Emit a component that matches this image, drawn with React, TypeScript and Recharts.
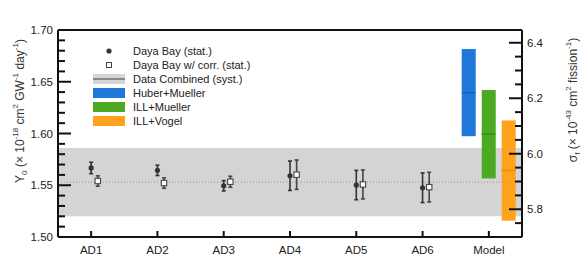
import {
  ComposedChart,
  Bar,
  Scatter,
  ErrorBar,
  XAxis,
  YAxis,
  ReferenceArea,
  ReferenceLine,
  Legend,
} from "recharts";

const FONT = "'Liberation Sans', Arial, Helvetica, sans-serif";

// categories along the x axis
const categories = ["AD1", "AD2", "AD3", "AD4", "AD5", "AD6", "Model"];

// Daya Bay measured yields per detector (x 1e-18 cm^2/GW/day)
const statY = [1.5667, 1.5644, 1.5495, 1.5592, 1.5502, 1.5476];
const statErr = [0.0055, 0.005, 0.005, 0.0142, 0.0142, 0.0143];
const corrY = [1.5541, 1.5521, 1.5534, 1.5602, 1.5508, 1.5482];
const corrErr = [0.005, 0.005, 0.0053, 0.0142, 0.014, 0.0143];
const corrOffset = 0.1; // w/ corr. points drawn just right of the category

// combined data band
const combinedY = 1.553;
const combinedSyst = 0.033;

// model predictions (low / high edge)
const modelKeys = ["hm", "im", "iv"];
const modelNames = ["Huber+Mueller", "ILL+Mueller", "ILL+Vogel"];
const modelLow = [1.5974, 1.5566, 1.5158];
const modelHigh = [1.6816, 1.642, 1.6126];
const modelFill = ["#1f78d9", "#4da823", "#ffa31c"];
const modelLine = ["#1462bd", "#3b8c14", "#f28e00"];

// axis ticks
const leftTicks = [
  1.5, 1.51, 1.52, 1.53, 1.54, 1.55, 1.56, 1.57, 1.58, 1.59, 1.6, 1.61, 1.62,
  1.63, 1.64, 1.65, 1.66, 1.67, 1.68, 1.69, 1.7,
];
const rightTicks = [
  5.7, 5.75, 5.8, 5.85, 5.9, 5.95, 6.0, 6.05, 6.1, 6.15, 6.2, 6.25, 6.3, 6.35,
  6.4,
];

const barData = categories.map((name) => {
  const row: Record<string, unknown> = { name };
  if (name === "Model") {
    modelKeys.forEach((k, j) => {
      row[k] = [modelLow[j], modelHigh[j]];
    });
  }
  return row;
});

const statData = statY.map((y, i) => ({ x: i + 1, y, err: statErr[i] }));
const corrData = corrY.map((y, i) => ({ x: i + 1 + corrOffset, y, err: corrErr[i] }));

const isMultiple = (v: number, step: number) =>
  Math.abs(v / step - Math.round(v / step)) < 1e-6;

function LeftTick({ x, y, payload }: any) {
  const major = isMultiple(payload.value, 0.05);
  return (
    <g>
      <line x1={x} x2={x + (major ? 13 : 7)} y1={y} y2={y} stroke="#111" strokeWidth={2} />
      {major && (
        <text x={x - 5} y={y + 4} textAnchor="end" fontSize={11.5} fontFamily={FONT} fill="#222">
          {payload.value.toFixed(2)}
        </text>
      )}
    </g>
  );
}

function RightTick({ x, y, payload }: any) {
  const major = isMultiple(payload.value, 0.2);
  return (
    <g>
      <line x1={x} x2={x - (major ? 13 : 7)} y1={y} y2={y} stroke="#111" strokeWidth={2} />
      {major && (
        <text x={x + 5} y={y + 4} textAnchor="start" fontSize={11.5} fontFamily={FONT} fill="#222">
          {payload.value.toFixed(1)}
        </text>
      )}
    </g>
  );
}

function BottomTick({ x, y, payload }: any) {
  return (
    <g>
      <line x1={x} x2={x} y1={y} y2={y - 6} stroke="#111" strokeWidth={2} />
      <text x={x} y={y + 17} textAnchor="middle" fontSize={11.5} fontFamily={FONT} fill="#222">
        {payload.value}
      </text>
    </g>
  );
}

function ModelBar(props: any) {
  const { x, y, width, height, fill, line } = props;
  if (!height) return null;
  const top = height < 0 ? y + height : y;
  const h = Math.abs(height);
  return (
    <g>
      <rect x={x} y={top} width={width} height={h} fill={fill} />
      <line x1={x} x2={x + width} y1={top + h / 2} y2={top + h / 2} stroke={line} strokeWidth={1.5} />
    </g>
  );
}

function Dot({ cx, cy }: any) {
  return <circle cx={cx} cy={cy} r={2.6} fill="#333" />;
}

function OpenSquare({ cx, cy }: any) {
  return <rect x={cx - 2.7} y={cy - 2.7} width={5.4} height={5.4} fill="#fff" stroke="#444" strokeWidth={1.1} />;
}

function LegendBox() {
  const rows = [
    "Daya Bay (stat.)",
    "Daya Bay w/ corr. (stat.)",
    "Data Combined (syst.)",
    ...modelNames,
  ];
  return (
    <svg width={220} height={86}>
      {rows.map((label, i) => {
        const cy = 7 + i * 14;
        let mark = null;
        if (i === 0) mark = <Dot cx={16} cy={cy} />;
        else if (i === 1) mark = <rect x={13.5} y={cy - 2.5} width={5} height={5} fill="#fff" stroke="#444" strokeWidth={1} />;
        else if (i === 2)
          mark = (
            <g>
              <rect x={0} y={cy - 5} width={32} height={10} fill="#d4d4d4" />
              <line x1={0} x2={32} y1={cy} y2={cy} stroke="#888" strokeWidth={2} />
            </g>
          );
        else mark = <rect x={0} y={cy - 5} width={32} height={10} fill={modelFill[i - 3]} />;
        return (
          <g key={label}>
            {mark}
            <text x={40} y={cy + 4} fontSize={11} fontFamily={FONT} fill="#222">
              {label}
            </text>
          </g>
        );
      })}
    </svg>
  );
}

function AxisTitles() {
  const sup = 8;
  return (
    <g fontFamily={FONT} fill="#333">
      <text transform="translate(24,111) rotate(-90)" textAnchor="middle" fontSize={12}>
        Y<tspan fontSize={sup} dy={3}>0</tspan>
        <tspan dy={-3}> (× 10</tspan>
        <tspan fontSize={sup} dy={-6}>-18</tspan>
        <tspan dy={6}> cm</tspan>
        <tspan fontSize={sup} dy={-6}>2</tspan>
        <tspan dy={6}> GW</tspan>
        <tspan fontSize={sup} dy={-6}>-1</tspan>
        <tspan dy={6}> day</tspan>
        <tspan fontSize={sup} dy={-6}>-1</tspan>
        <tspan dy={6}>)</tspan>
      </text>
      <text transform="translate(577,100) rotate(-90)" textAnchor="middle" fontSize={12}>
        σ<tspan fontSize={sup} dy={3}>f</tspan>
        <tspan dy={-3}> (× 10</tspan>
        <tspan fontSize={sup} dy={-6}>-43</tspan>
        <tspan dy={6}> cm</tspan>
        <tspan fontSize={sup} dy={-6}>2</tspan>
        <tspan dy={6}> fission</tspan>
        <tspan fontSize={sup} dy={-6}>-1</tspan>
        <tspan dy={6}>)</tspan>
      </text>
    </g>
  );
}

export default function App() {
  return (
    <div style={{ position: "absolute", left: 0, top: 0, background: "#fff" }}>
      <ComposedChart
        width={581}
        height={273}
        data={barData}
        margin={{ top: 30, right: 0, left: 0, bottom: 16 }}
        barSize={14}
        barGap={6}
      >
        <ReferenceArea
          xAxisId="cat"
          yAxisId="left"
          y1={combinedY - combinedSyst}
          y2={combinedY + combinedSyst}
          fill="#d4d4d4"
          fillOpacity={1}
          stroke="none"
        />
        <ReferenceLine
          xAxisId="cat"
          yAxisId="left"
          y={combinedY}
          stroke="#999"
          strokeDasharray="1 2"
        />
        <ReferenceLine xAxisId="cat" yAxisId="left" y={1.7} stroke="#111" strokeWidth={2} ifOverflow="visible" />

        <XAxis
          xAxisId="cat"
          dataKey="name"
          type="category"
          height={20}
          tickSize={0}
          tickMargin={0}
          interval={0}
          axisLine={{ stroke: "#111", strokeWidth: 2 }}
          tick={<BottomTick />}
          tickLine={false}
        />
        <XAxis xAxisId="num" dataKey="x" type="number" domain={[0.5, 7.5]} hide />
        <YAxis
          yAxisId="left"
          orientation="left"
          width={58}
          domain={[1.5, 1.7]}
          ticks={leftTicks}
          interval={0}
          tickSize={0}
          tickMargin={0}
          axisLine={{ stroke: "#111", strokeWidth: 2 }}
          tick={<LeftTick />}
          tickLine={false}
          allowDataOverflow
        />
        <YAxis
          yAxisId="right"
          orientation="right"
          width={59}
          domain={[5.7, 6.446]}
          ticks={rightTicks}
          interval={0}
          tickSize={0}
          tickMargin={0}
          axisLine={{ stroke: "#111", strokeWidth: 2 }}
          tick={<RightTick />}
          tickLine={false}
          allowDataOverflow
        />

        {modelKeys.map((k, j) => (
          <Bar
            key={k}
            xAxisId="cat"
            yAxisId="left"
            dataKey={k}
            fill={modelFill[j]}
            shape={<ModelBar line={modelLine[j]} />}
            isAnimationActive={false}
          />
        ))}

        <Scatter
          xAxisId="num"
          yAxisId="left"
          data={statData}
          dataKey="y"
          shape={<Dot />}
          isAnimationActive={false}
        >
          <ErrorBar dataKey="err" direction="y" width={2} stroke="#333" strokeWidth={1.6} />
        </Scatter>
        <Scatter
          xAxisId="num"
          yAxisId="left"
          data={corrData}
          dataKey="y"
          shape={<OpenSquare />}
          isAnimationActive={false}
        >
          <ErrorBar dataKey="err" direction="y" width={2} stroke="#444" strokeWidth={1.6} />
        </Scatter>

        <Legend
          layout="vertical"
          align="center"
          verticalAlign="middle"
          content={<LegendBox />}
          wrapperStyle={{ top: 44, left: 93, width: 220, height: 86 }}
        />
        <AxisTitles />
      </ComposedChart>
    </div>
  );
}
